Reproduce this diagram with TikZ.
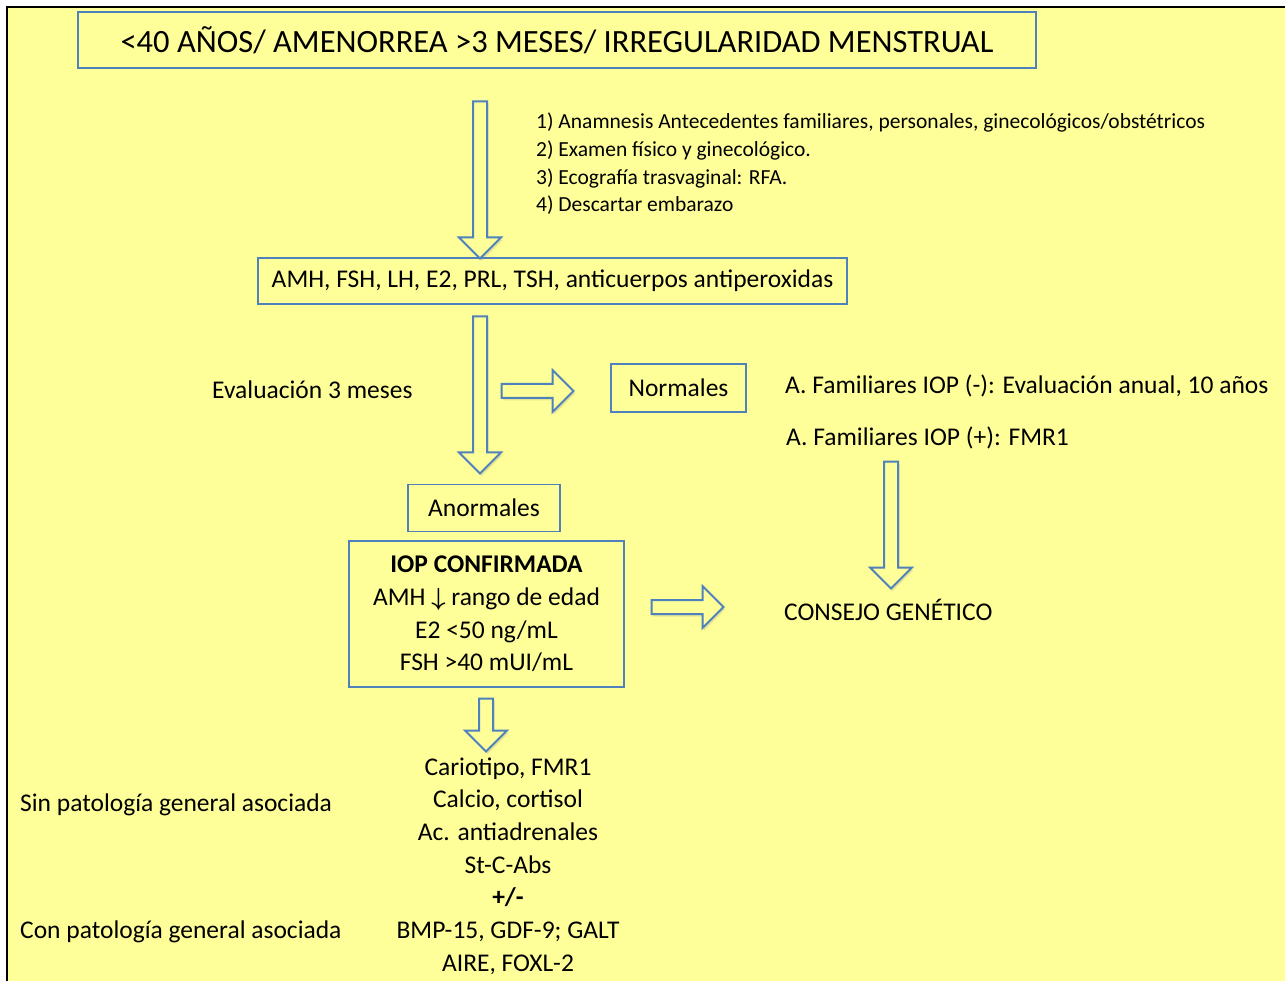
\documentclass[tikz,border=0pt]{standalone}
\usepackage{amsmath,amssymb}
\usepackage{fontspec}
\setmainfont{Carlito}
\usetikzlibrary{shapes.arrows,shadows}
\definecolor{boxblue}{HTML}{4F81BD}
\definecolor{pageyellow}{HTML}{FFFF99}

\begin{document}
\begin{tikzpicture}[x=1pt, y=-1pt,
    % --- Node styles ---
    box/.style={draw=boxblue, line width=1.5pt, fill=pageyellow, inner sep=0pt},
    plain/.style={inner sep=0pt, align=left},
    titlefont/.style={font=\fontsize{32.5}{38}\selectfont},
    mainfont/.style={font=\fontsize{25.5}{32.7}\selectfont},
    smallfont/.style={font=\fontsize{21.5}{27.7}\selectfont},
    % --- Block arrows ---
    blockarrow/.style={single arrow, draw=boxblue, line width=2pt, fill=pageyellow,
        inner sep=6pt, single arrow head extend=14pt, single arrow tip angle=90,
        drop shadow={opacity=0.2, shadow xshift=1.5pt, shadow yshift=-2.5pt}},
    downarrow/.style={blockarrow, rotate=-90},
]
\useasboundingbox (0,0) rectangle (1285,981);

% === Page background ===
\fill[pageyellow] (7,7) rectangle (1285,981);
\draw[line width=2pt] (7,981) -- (7,7) -- (1285,7);

% === Boxes ===
\node[box, titlefont, minimum width=958pt, minimum height=56pt] (title) at (557,40)
  {<40 AÑOS/ AMENORREA >3 MESES/ IRREGULARIDAD MENSTRUAL};
\node[box, mainfont, minimum width=589pt, minimum height=46pt] (labs) at (552.5,281)
  {AMH, FSH, LH, E2, PRL, TSH, anticuerpos antiperoxidas};
\node[box, mainfont, minimum width=135pt, minimum height=48pt] (normal) at (678.5,388)
  {Normales};
\node[box, mainfont, minimum width=152pt, minimum height=47pt] (abnormal) at (484,508)
  {Anormales};
\node[box, mainfont, align=center, minimum width=275pt, minimum height=146pt] (iop) at (486.5,614)
  {\textbf{IOP CONFIRMADA}\\
   AMH $\boldsymbol{\downarrow}$ rango de edad\\
   E2 <50 ng/mL\\
   FSH >40 mUI/mL};

% === Free texts ===
\node[plain, smallfont, anchor=west] (exams) at (536,164)
  {1) Anamnesis Antecedentes familiares, personales, ginecológicos/obstétricos\\
   2) Examen físico y ginecológico.\\
   3) Ecografía trasvaginal: RFA.\\
   4) Descartar embarazo};
\node[plain, mainfont, anchor=west] (evalnote) at (212,390) {Evaluación 3 meses};
\node[plain, mainfont, anchor=west] (famneg) at (785,386)
  {A. Familiares IOP (-): Evaluación anual, 10 años};
\node[plain, mainfont, anchor=west] (fampos) at (786,438)
  {A. Familiares IOP (+): FMR1};
\node[plain, mainfont, anchor=west] (consejo) at (784,610) {CONSEJO GENÉTICO};
\node[plain, mainfont, align=center] (tests) at (508,866)
  {Cariotipo, FMR1\\
   Calcio, cortisol\\
   Ac. antiadrenales\\
   St-C-Abs\\
   \textbf{+/-}\\
   BMP-15, GDF-9; GALT\\
   AIRE, FOXL-2};
\node[plain, mainfont, anchor=west] (sinpat) at (20,805) {Sin patología general asociada};
\node[plain, mainfont, anchor=west] (conpat) at (20,932) {Con patología general asociada};

% === Block arrows ===
\node[downarrow, minimum height=157pt] (arr1) at (480,176.5) {};
\node[downarrow, minimum height=157pt] (arr2) at (480,391.5) {};
\node[blockarrow, minimum height=72pt] (arr3) at (534,391) {};
\node[downarrow, minimum height=127pt] (arr4) at (891,521.5) {};
\node[blockarrow, minimum height=72pt] (arr5) at (684,607) {};
\node[downarrow, minimum height=53pt] (arr6) at (486,721.5) {};

\end{tikzpicture}
\end{document}
